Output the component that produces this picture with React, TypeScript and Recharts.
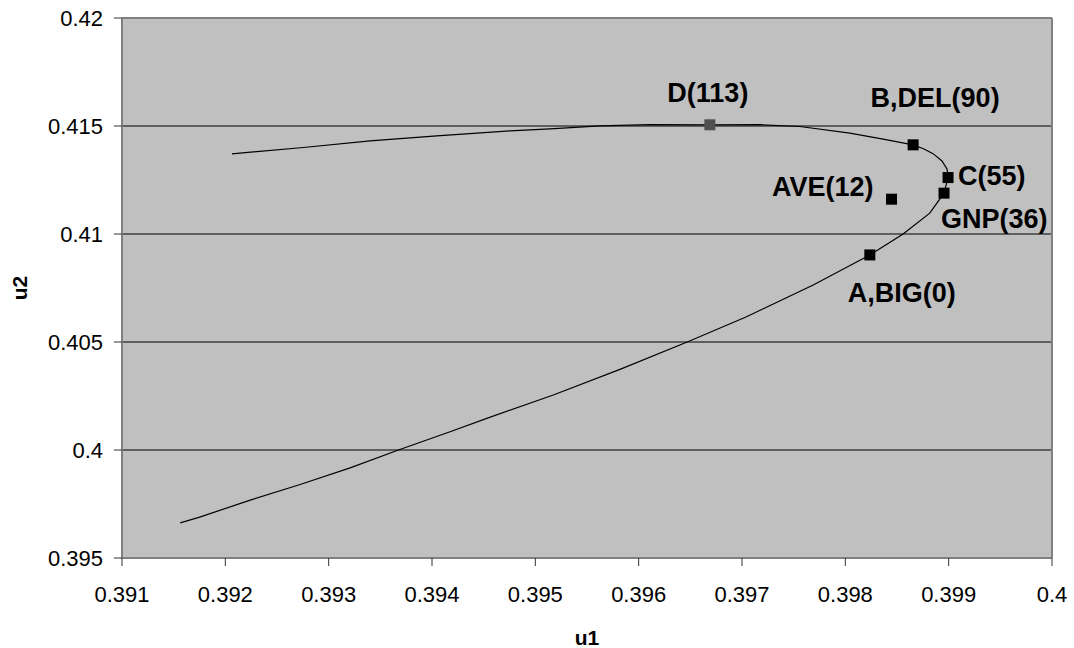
import React from "react";
import {
  ScatterChart,
  Scatter,
  XAxis,
  YAxis,
  CartesianGrid,
  ReferenceLine,
} from "recharts";

// curve, in path order (lower-left end -> upper-left end)
const curveU1 = [
  0.391564, 0.391759, 0.392241, 0.392724, 0.393208, 0.393675, 0.394175, 0.39453,
  0.395174, 0.395819, 0.396464, 0.397044, 0.397689, 0.398237, 0.398559, 0.398817,
  0.398955, 0.398994, 0.398985, 0.398935, 0.398849, 0.398756, 0.398656, 0.398366,
  0.398044, 0.39756, 0.397174, 0.396689, 0.396109, 0.395626, 0.395143, 0.394756,
  0.394046, 0.393401, 0.392756, 0.392064,
];
const curveU2 = [
  0.396627, 0.396905, 0.397679, 0.398404, 0.39917, 0.4, 0.400844, 0.401464,
  0.402544, 0.403735, 0.404986, 0.406172, 0.407641, 0.409031, 0.41, 0.410964,
  0.411891, 0.412613, 0.413, 0.41338, 0.41372, 0.41395, 0.414128, 0.414393,
  0.41467, 0.414977, 0.41506, 0.415056, 0.41506, 0.415009, 0.41487, 0.414778,
  0.414546, 0.414314, 0.414004, 0.413712,
];

// labelled points
const pointNames = ["D", "B", "C", "AVE", "GNP", "A"];
const pointLabels = ["D(113)", "B,DEL(90)", "C(55)", "AVE(12)", "GNP(36)", "A,BIG(0)"];
const pointU1 = [0.396689, 0.398656, 0.398994, 0.398447, 0.398955, 0.398237];
const pointU2 = [0.415056, 0.414128, 0.412613, 0.411612, 0.411891, 0.409031];

const xTicks = [0.391, 0.392, 0.393, 0.394, 0.395, 0.396, 0.397, 0.398, 0.399, 0.4];
const yTicks = [0.395, 0.4, 0.405, 0.41, 0.415, 0.42];
const gridValues = [0.4, 0.405, 0.41, 0.415];

const curveData = curveU1.map((u1, i) => ({ u1, u2: curveU2[i] }));
const pointData = pointNames.map((name, i) => ({
  name,
  label: pointLabels[i],
  u1: pointU1[i],
  u2: pointU2[i],
}));

// label placement relative to the marker centre
const LABEL_POS: Record<string, { dx: number; dy: number; anchor: "start" | "middle" | "end" }> = {
  D: { dx: -2, dy: -23, anchor: "middle" },
  B: { dx: 22, dy: -38, anchor: "middle" },
  C: { dx: 10, dy: 7, anchor: "start" },
  AVE: { dx: -18, dy: -3, anchor: "end" },
  GNP: { dx: -3, dy: 35, anchor: "start" },
  A: { dx: 32, dy: 47, anchor: "middle" },
};

const FONT = "'Liberation Sans', Arial, sans-serif";
const MARK = 11;

const Marker = (props: any) => {
  const { cx, cy, payload } = props;
  if (cx == null || cy == null) return null;
  const pos = LABEL_POS[payload.name];
  const fill = payload.name === "D" ? "#505050" : "#000";
  return (
    <g>
      <rect x={cx - MARK / 2} y={cy - MARK / 2} width={MARK} height={MARK} fill={fill} />
      <text
        x={cx + pos.dx}
        y={cy + pos.dy}
        textAnchor={pos.anchor}
        fontFamily={FONT}
        fontWeight="bold"
        fontSize={27}
        fill="#000"
      >
        {payload.label}
      </text>
    </g>
  );
};

const tickStyle = { fontSize: 22, fill: "#000", fontFamily: FONT };

export default function App() {
  return (
    <div style={{ position: "absolute", left: 0, top: 0, width: 1074, height: 648, background: "#fff" }}>
      <ScatterChart width={1074} height={648} margin={{ top: 18, right: 22, bottom: 0, left: 0 }}>
        <CartesianGrid
          fill="#C0C0C0"
          stroke="#000"
          strokeWidth={1}
          vertical={false}
          horizontalValues={gridValues}
        />
        <XAxis
          type="number"
          dataKey="u1"
          domain={[0.391, 0.4]}
          ticks={xTicks}
          tickFormatter={(v: number) => String(v)}
          height={90}
          tickSize={8}
          tickMargin={20}
          tick={tickStyle}
          axisLine={{ stroke: "#808080", strokeWidth: 2 }}
          tickLine={{ stroke: "#333" }}
          allowDataOverflow
          label={(p: any) => {
            const vb = p.viewBox || {};
            const x = (vb.x ?? 122) + (vb.width ?? 930) / 2;
            return (
              <text x={x} y={645} textAnchor="middle" fontFamily={FONT} fontWeight="bold" fontSize={21} fill="#000">
                u1
              </text>
            );
          }}
        />
        <YAxis
          type="number"
          dataKey="u2"
          domain={[0.395, 0.42]}
          ticks={yTicks}
          tickFormatter={(v: number) => String(v)}
          width={122}
          tickSize={8}
          tickMargin={11}
          tick={tickStyle}
          axisLine={{ stroke: "#808080", strokeWidth: 2 }}
          tickLine={{ stroke: "#333" }}
          allowDataOverflow
          label={(p: any) => {
            const vb = p.viewBox || {};
            const y = (vb.y ?? 18) + (vb.height ?? 540) / 2;
            return (
              <text
                x={27}
                y={y}
                transform={`rotate(-90 27 ${y})`}
                textAnchor="middle"
                fontFamily={FONT}
                fontWeight="bold"
                fontSize={21}
                fill="#000"
              >
                u2
              </text>
            );
          }}
        />
        <ReferenceLine y={0.42} stroke="#808080" strokeWidth={2} />
        <ReferenceLine x={0.4} stroke="#808080" strokeWidth={2} />
        <Scatter
          data={curveData}
          line={{ stroke: "#000", strokeWidth: 1.2 }}
          lineType="joint"
          shape={() => <g />}
          isAnimationActive={false}
        />
        <Scatter data={pointData} shape={Marker} isAnimationActive={false} />
      </ScatterChart>
    </div>
  );
}
